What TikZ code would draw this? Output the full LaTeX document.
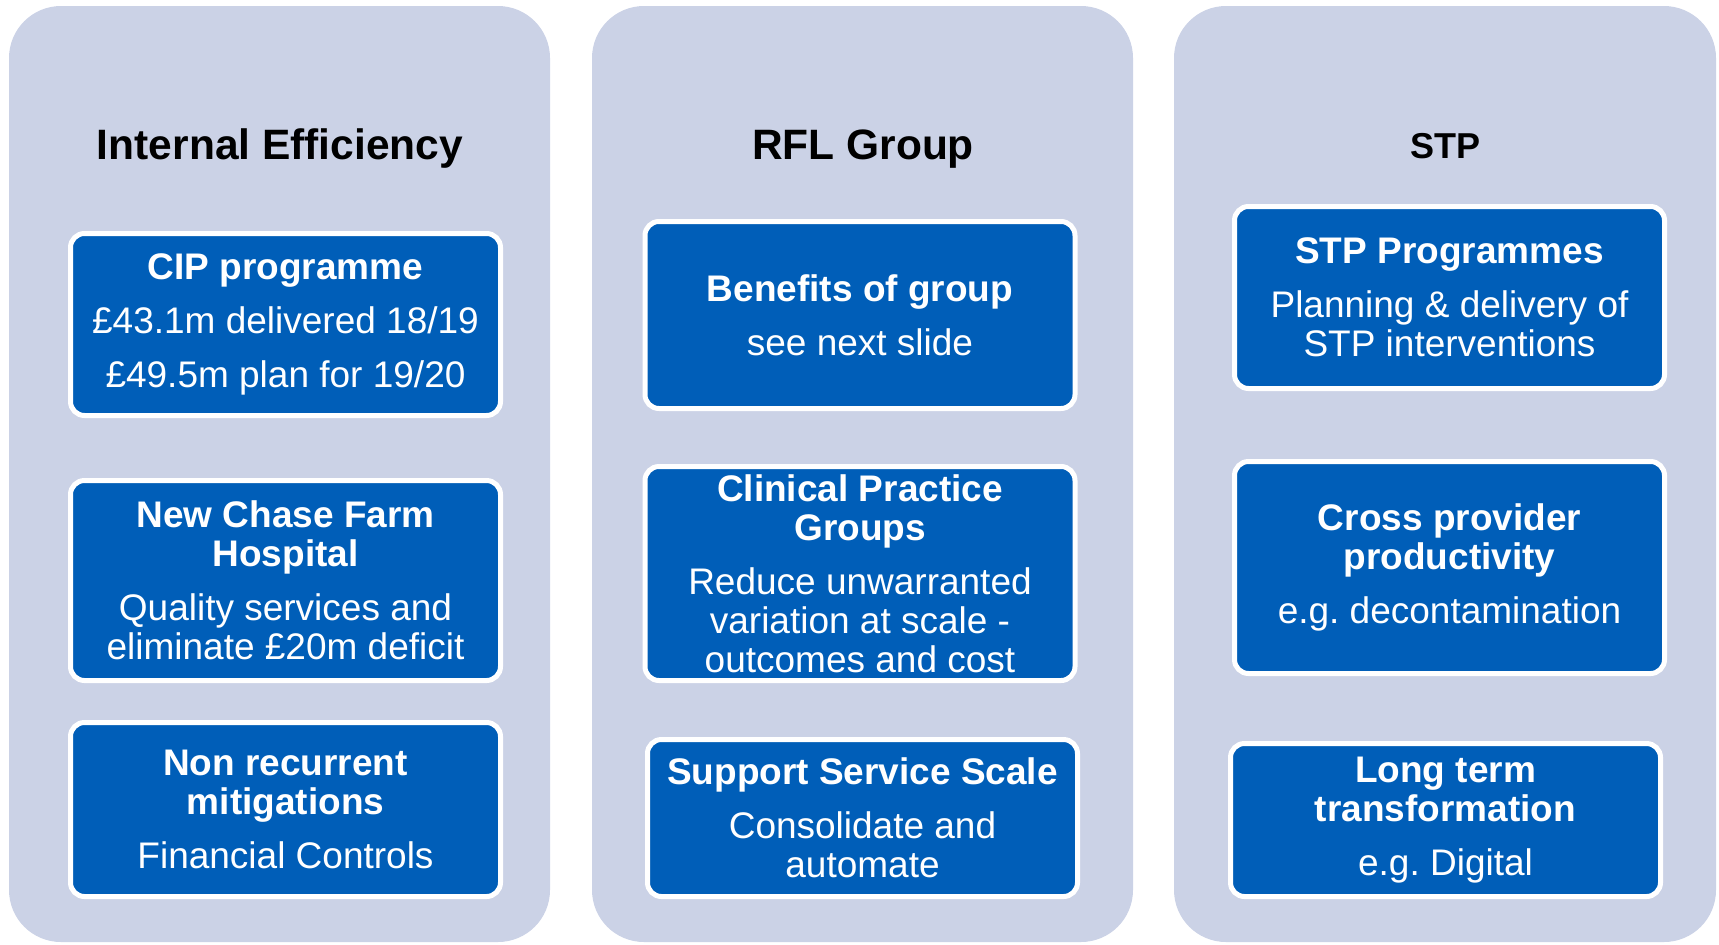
\documentclass[tikz,border=0pt]{standalone}
\usepackage{fontspec}
\setmainfont{Liberation Sans}
\usepackage{tikz}

\definecolor{panelgrey}{RGB}{203,210,230}
\definecolor{nhsblue}{RGB}{0,94,184}

\frenchspacing

\begin{document}
\begin{tikzpicture}[x=0.5pt, y=-0.5pt]

% Define styles for panels and blocks
\tikzstyle{panel} = [fill=panelgrey, rounded corners=26pt]
\tikzstyle{heading} = [font=\fontsize{21.25}{24}\selectfont\bfseries, inner sep=0pt]
\tikzstyle{block} = [draw=white, line width=2.5pt, fill=nhsblue, rounded corners=7pt,
  text=white, align=center, minimum width=215pt, inner sep=0pt,
  font=\fontsize{18.5}{19.5}\selectfont]

\useasboundingbox (0,0) rectangle (1719,944);

% Draw background panels
\fill[panel] (9,6) rectangle (550,942);
\fill[panel] (592,6) rectangle (1133,942);
\fill[panel] (1174,6) rectangle (1716,942);

% Panel headings
\node[heading] (effhead) at (280,149) {Internal Efficiency};
\node[heading] (rflhead) at (863,149) {RFL Group};
\node[heading, font=\fontsize{18}{20}\selectfont\bfseries] (stphead) at (1445,146) {STP};

% Internal efficiency blocks
\node[block, minimum height=91pt] (cip) at (285.5,324.5)
  {\textbf{CIP programme}\\[7.5pt] £43.1m delivered 18/19\\[7.5pt] £49.5m plan for 19/20};
\node[block, minimum height=100pt] (chase) at (285.5,580.5)
  {\textbf{New Chase Farm}\\ \textbf{Hospital}\\[7.5pt] Quality services and\\ eliminate £20m deficit};
\node[block, minimum height=87pt] (nonrec) at (285.5,809.5)
  {\textbf{Non recurrent}\\ \textbf{mitigations}\\[7.5pt] Financial Controls};

% RFL group blocks
\node[block, minimum height=93.5pt] (benefits) at (860,315)
  {\textbf{Benefits of group}\\[7.5pt] see next slide};
\node[block, minimum height=107pt] (cpg) at (860,573.5)
  {\textbf{Clinical Practice}\\ \textbf{Groups}\\[7.5pt] Reduce unwarranted\\ variation at scale -\\ outcomes and cost};
\node[block, minimum height=78.5pt] (support) at (862.5,818)
  {\textbf{Support Service Scale}\\[7.5pt] Consolidate and\\ automate};

% STP blocks
\node[block, minimum height=91pt] (stpprog) at (1449.5,297.5)
  {\textbf{STP Programmes}\\[7.5pt] Planning \& delivery of\\ STP interventions};
\node[block, minimum height=106pt] (cross) at (1449.5,567.5)
  {\textbf{Cross provider}\\ \textbf{productivity}\\[7.5pt] e.g. decontamination};
\node[block, minimum height=76.5pt] (longterm) at (1445.5,820)
  {\textbf{Long term}\\ \textbf{transformation}\\[7.5pt] e.g. Digital};

\end{tikzpicture}
\end{document}
